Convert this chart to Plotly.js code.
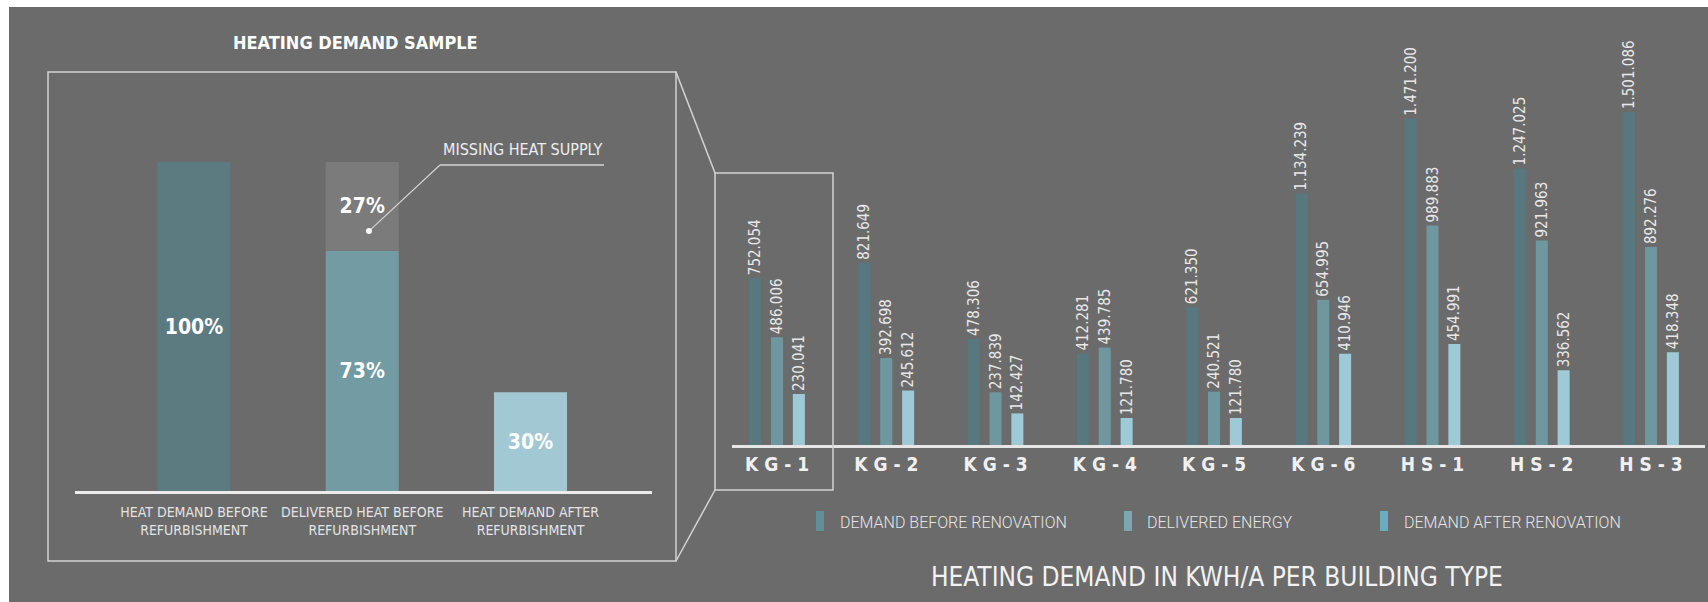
<!DOCTYPE html>
<html>
<head>
<meta charset="utf-8">
<script src="https://cdn.plot.ly/plotly-3.0.1.min.js"></script>
<style>
  html, body { margin: 0; padding: 0; background: #ffffff; }
  #chart { width: 1708px; height: 602px; }
</style>
</head>
<body>
<div id="chart"></div>
<script>
// ---- Heating demand sample (shares of the pre-refurbishment demand, %) ----
const sampleCategories = [
  'HEAT DEMAND BEFORE<br>REFURBISHMENT',
  'DELIVERED HEAT BEFORE<br>REFURBISHMENT',
  'HEAT DEMAND AFTER<br>REFURBISHMENT'
];
const sampleShares = [100, 73, 30];
const missingShare = [27];
const missingLabel = 'MISSING HEAT SUPPLY';

// ---- Heating demand per building type (kWh/a) ----
const buildingTypes = ['KG-1', 'KG-2', 'KG-3', 'KG-4', 'KG-5', 'KG-6', 'HS-1', 'HS-2', 'HS-3'];
const demandBefore    = [752054, 821649, 478306, 412281, 621350, 1134239, 1471200, 1247025, 1501086];
const deliveredEnergy = [486006, 392698, 237839, 439785, 240521, 654995, 989883, 921963, 892276];
const demandAfter     = [230041, 245612, 142427, 121780, 121780, 410946, 454991, 336562, 418348];
const seriesNames = ['DEMAND BEFORE RENOVATION', 'DELIVERED ENERGY', 'DEMAND AFTER RENOVATION'];

const leftTitle = 'HEATING DEMAND SAMPLE';
const rightTitle = 'HEATING DEMAND IN KWH/A PER BUILDING TYPE';

// ---- page geometry helpers (pixels -> paper fractions) ----
const W = 1708, H = 602;
const X = v => v / W;
const Y = v => 1 - v / H;

const NARROW = "'Liberation Sans Narrow', 'DejaVu Sans Condensed', 'Roboto Condensed', 'Arial Narrow', sans-serif";
const BG = '#6b6b6b';
const LINE = '#d4d4d4';
const TEXT = '#eeeeee';

const sampleColors = ['#5b7b81', '#739ba4', '#a2c9d3'];
const seriesColors = ['#57787e', '#6e979f', '#9dcad6'];
const legendColors = ['#5f8f9b', '#7aa6b0', '#6aacbf'];

// left chart bars
const leftWidth = 0.434;
const sampleTrace = {
  type: 'bar', x: sampleCategories, y: sampleShares,
  xaxis: 'x', yaxis: 'y',
  width: leftWidth, offset: -leftWidth / 2,
  marker: { color: sampleColors, line: { width: 0 } },
  texttemplate: '%{y}%', textposition: 'inside', insidetextanchor: 'middle',
  constraintext: 'none',
  textfont: { family: NARROW, size: 21, color: '#ffffff', weight: 700 },
  hoverinfo: 'skip', showlegend: false
};
const missingTrace = {
  type: 'bar', x: [sampleCategories[1]], y: missingShare, base: [sampleShares[1]],
  xaxis: 'x', yaxis: 'y',
  width: leftWidth, offset: -leftWidth / 2,
  marker: { color: '#7b7b7b', line: { width: 0 } },
  texttemplate: '%{y}%', textposition: 'inside', insidetextanchor: 'middle',
  constraintext: 'none',
  textfont: { family: NARROW, size: 21, color: '#ffffff', weight: 700 },
  hoverinfo: 'skip', showlegend: false
};

// right chart bars: three narrow bars per building type
const barW = 0.11;
const offsets = [-0.2 - barW / 2, -barW / 2, 0.2 - barW / 2];
const seriesValues = [demandBefore, deliveredEnergy, demandAfter];
const typeTraces = seriesValues.map((vals, i) => ({
  type: 'bar', name: seriesNames[i], x: buildingTypes, y: vals,
  xaxis: 'x2', yaxis: 'y2',
  width: barW, offset: offsets[i],
  marker: { color: seriesColors[i], line: { width: 0 } },
  texttemplate: '%{y:,}', textposition: 'outside', textangle: -90,
  constraintext: 'none', cliponaxis: false,
  textfont: { family: NARROW, size: 15, color: '#e8e8e8' },
  hoverinfo: 'skip', showlegend: false
}));

// callout from the missing-supply segment
const dotX = 1.04, dotY = 79, elbowX = 1.462, elbowY = 99.1, endX = 2.437;

const shapes = [
  // grey card (white strip remains on top/left)
  { type: 'rect', xref: 'paper', yref: 'paper', x0: X(9), x1: X(W), y0: Y(7), y1: Y(H),
    fillcolor: BG, line: { width: 0 }, layer: 'below' },
  // frame around the sample chart
  { type: 'rect', xref: 'paper', yref: 'paper', x0: X(48), x1: X(676), y0: Y(72), y1: Y(561),
    line: { color: LINE, width: 1.5 }, layer: 'above' },
  // frame around KG-1 and the zoom connectors
  { type: 'rect', xref: 'paper', yref: 'paper', x0: X(715), x1: X(833), y0: Y(173), y1: Y(490),
    line: { color: LINE, width: 1.5 }, layer: 'above' },
  { type: 'line', xref: 'paper', yref: 'paper', x0: X(676), y0: Y(72), x1: X(715), y1: Y(173),
    line: { color: LINE, width: 1.5 } },
  { type: 'line', xref: 'paper', yref: 'paper', x0: X(676), y0: Y(561), x1: X(715), y1: Y(490),
    line: { color: LINE, width: 1.5 } },
  // callout leader
  { type: 'line', xref: 'x', yref: 'y', x0: dotX, y0: dotY, x1: elbowX, y1: elbowY,
    line: { color: LINE, width: 1.2 } },
  { type: 'line', xref: 'x', yref: 'y', x0: elbowX, y0: elbowY, x1: endX, y1: elbowY,
    line: { color: LINE, width: 1.5 } },
  { type: 'circle', xref: 'x', yref: 'y', xsizemode: 'pixel', ysizemode: 'pixel',
    xanchor: dotX, yanchor: dotY, x0: -3, x1: 3, y0: -3, y1: 3,
    fillcolor: '#ffffff', line: { width: 0 } }
];

// legend swatches
const legendSwatchX = [816, 1124, 1380];
const legendTextX = [838, 1145, 1402];
legendSwatchX.forEach((x, i) => {
  shapes.push({ type: 'rect', xref: 'paper', yref: 'paper',
    x0: X(x), x1: X(x + 8), y0: Y(511), y1: Y(531),
    fillcolor: legendColors[i], line: { width: 0 } });
});

const annotations = [
  { text: leftTitle, xref: 'paper', yref: 'paper', x: X(355), y: Y(42),
    xanchor: 'center', yanchor: 'middle', showarrow: false,
    font: { family: NARROW, size: 18, color: '#ffffff', weight: 700 } },
  { text: missingLabel, xref: 'x', yref: 'y', x: (elbowX + endX) / 2, y: elbowY,
    xanchor: 'center', yanchor: 'bottom', yshift: 4, showarrow: false,
    font: { family: NARROW, size: 16, color: TEXT } },
  { text: rightTitle, xref: 'paper', yref: 'paper', x: X(1217), y: Y(577),
    xanchor: 'center', yanchor: 'middle', showarrow: false,
    font: { family: NARROW, size: 26, color: '#f2f2f2' } }
];
seriesNames.forEach((name, i) => {
  annotations.push({ text: name, xref: 'paper', yref: 'paper', x: X(legendTextX[i]), y: Y(522),
    xanchor: 'left', yanchor: 'middle', showarrow: false,
    font: { family: 'Roboto, sans-serif', size: 16, color: '#e6e6e6', weight: 300 } });
});

const layout = {
  width: W, height: H,
  margin: { l: 0, r: 0, t: 0, b: 0 },
  paper_bgcolor: '#ffffff',
  plot_bgcolor: 'rgba(0,0,0,0)',
  separators: ',.',
  barmode: 'overlay',
  showlegend: false,
  xaxis: {
    domain: [X(75), X(652)], range: [-0.707, 2.722], type: 'category',
    showgrid: false, zeroline: false, ticks: '', tickangle: 0,
    showline: true, linecolor: '#ececec', linewidth: 3,
    tickfont: { family: NARROW, size: 14, color: '#e4e4e4' },
    ticklabelstandoff: 6,
    fixedrange: true
  },
  yaxis: {
    domain: [Y(491), Y(162)], range: [0, 100],
    visible: false, showgrid: false, zeroline: false, fixedrange: true
  },
  xaxis2: {
    domain: [X(732), X(1705)], range: [-0.412, 8.494], type: 'category',
    anchor: 'y2',
    tickvals: buildingTypes,
    ticktext: buildingTypes.map(t => t.split('').join(' ')),
    showgrid: false, zeroline: false, ticks: '', tickangle: 0,
    showline: true, linecolor: '#e6e6e6', linewidth: 3,
    tickfont: { family: NARROW, size: 19, color: '#f0f0f0', weight: 700 },
    fixedrange: true
  },
  yaxis2: {
    domain: [Y(445), Y(60)], range: [0, 1736000], anchor: 'x2',
    visible: false, showgrid: false, zeroline: false, fixedrange: true
  },
  shapes: shapes,
  annotations: annotations
};

Plotly.newPlot('chart', [sampleTrace, missingTrace, ...typeTraces], layout,
  { staticPlot: true, displayModeBar: false });
</script>
</body>
</html>
